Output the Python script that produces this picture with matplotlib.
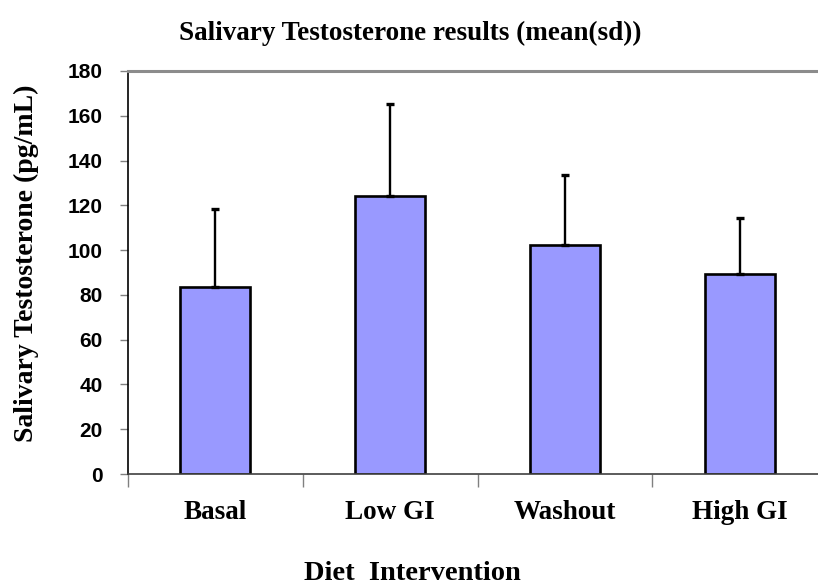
import matplotlib
matplotlib.use("Agg")
from matplotlib import pyplot as plt
import numpy as np

# Diet phases and salivary testosterone (pg/mL)
categories = ["Basal", "Low GI", "Washout", "High GI"]
means = [83.5, 124.3, 102.5, 89.3]
sds = [35.0, 41.0, 31.0, 25.0]
yticks = [0, 20, 40, 60, 80, 100, 120, 140, 160, 180]

serif = "Liberation Serif"
sans = "Liberation Sans"

W, H = 818, 588
fig = plt.figure(figsize=(W / 100, H / 100), dpi=100)
fig.patch.set_facecolor("white")

# axes span past the right edge, like the cropped original
ax = fig.add_axes([128 / W, (H - 474) / H, (827 - 128) / W, (474 - 71) / H])

x = np.arange(len(categories))
ax.bar(x, means, width=0.4, color="#9999ff", edgecolor="black", linewidth=1.9, zorder=2)
ax.errorbar(x, means, yerr=[np.zeros(len(sds)), sds], fmt="none", ecolor="black",
            elinewidth=1.7, capsize=3, capthick=2.4, zorder=3)

ax.set_xlim(-0.5, len(categories) - 0.5)
ax.set_ylim(0, 180)
ax.set_yticks(yticks)
ax.set_yticklabels([str(v) for v in yticks], fontfamily=sans, fontweight="bold", fontsize=15)
ax.tick_params(axis="y", direction="out", length=6, width=1, color="#808080", pad=12)

# category labels centred, ticks at the boundaries
ax.set_xticks(x)
ax.set_xticklabels(categories, fontfamily=serif, fontweight="bold", fontsize=19.5)
ax.tick_params(axis="x", length=0, pad=19)
ax.set_xticks(np.arange(len(categories) + 1) - 0.5, minor=True)
ax.tick_params(axis="x", which="minor", direction="out", length=9, width=1, color="#808080")

ax.spines["left"].set_color("black")
ax.spines["left"].set_linewidth(1.2)
ax.spines["bottom"].set_color("#404040")
ax.spines["bottom"].set_linewidth(1.2)
ax.spines["top"].set_color("#8c8c8c")
ax.spines["top"].set_linewidth(2.2)
ax.spines["right"].set_visible(False)

fig.text(410 / W, 1 - 33 / H, "Salivary Testosterone results (mean(sd))", ha="center", va="center",
         fontfamily=serif, fontweight="bold", fontsize=19.5)
fig.text(412 / W, 1 - 573 / H, "Diet  Intervention", ha="center", va="center",
         fontfamily=serif, fontweight="bold", fontsize=20.5)
fig.text(26 / W, 1 - 263 / H, "Salivary Testosterone (pg/mL)", ha="center", va="center",
         rotation=90, fontfamily=serif, fontweight="bold", fontsize=20)

fig.savefig("out.png", dpi=100)
